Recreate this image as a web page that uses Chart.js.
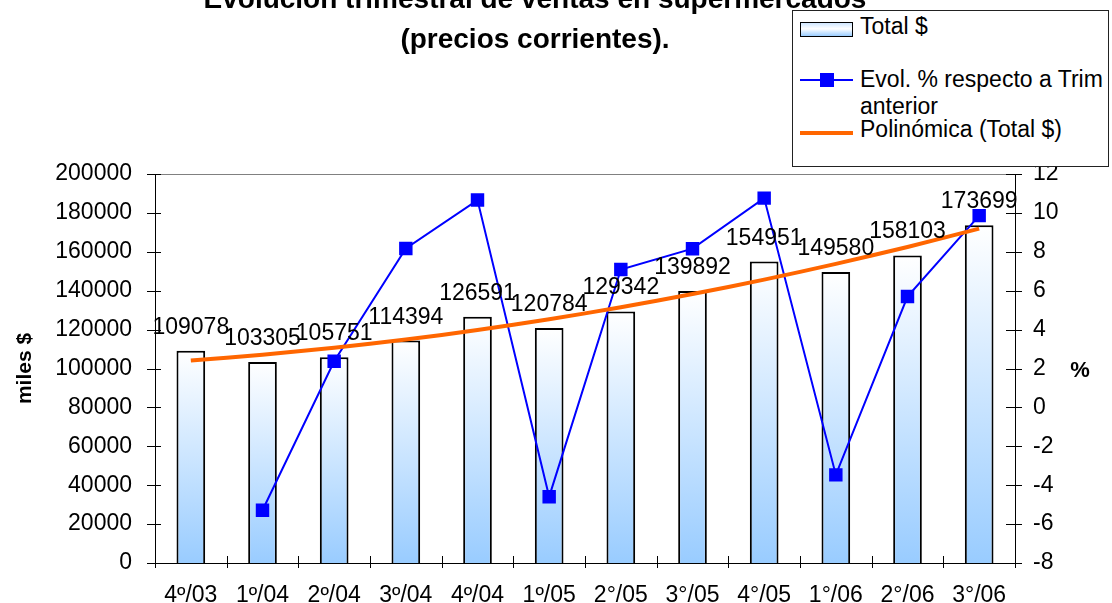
<!DOCTYPE html>
<html>
<head>
<meta charset="utf-8">
<title>Evolución trimestral de ventas en supermercados</title>
<script src="https://cdn.jsdelivr.net/npm/chart.js@4/dist/chart.umd.min.js"></script>
<style>
  body { margin: 0; background: #fff; font-family: 'Liberation Sans', Arial, sans-serif; }
  #wrap { position: relative; width: 1112px; height: 603px; overflow: hidden; }
  #chart { position: absolute; left: 0; top: 0; }
  #title { position: absolute; left: 0; top: -21px; width: 1070px; text-align: center;
           font-weight: bold; font-size: 28px; line-height: 40px; color: #000; }
  #legend { position: absolute; left: 792px; top: 10px; width: 315px; height: 155px;
            border: 1px solid #222; background: #fff; font-size: 23px; color: #000; }
  #legend .txt { position: absolute; left: 67px; line-height: 27px; white-space: nowrap; }
  #legend .swatch { position: absolute; left: 7px; top: 11px; width: 51px; height: 13px;
                    border: 1px solid #000; background: linear-gradient(#cfe6ff, #ffffff 45%, #99ccff); }
  #legend .blueLine { position: absolute; left: 7px; top: 68px; width: 53px; height: 2px; background: #0000ff; }
  #legend .blueMark { position: absolute; left: 27px; top: 62px; width: 14px; height: 14px; background: #0000ff; }
  #legend .orangeLine { position: absolute; left: 7px; top: 120px; width: 53px; height: 4px; background: #ff6600; }
</style>
</head>
<body>
<div id="wrap">
  <canvas id="chart" width="1112" height="603"></canvas>
  <div id="title">Evolución trimestral de ventas en supermercados<br>(precios corrientes).</div>
  <div id="legend"></div>
</div>
<script>
// chart data
const quarters = ['4º/03', '1º/04', '2º/04', '3º/04', '4º/04', '1º/05', '2°/05', '3°/05', '4°/05', '1°/06', '2°/06', '3°/06'];
const totals = [109078, 103305, 105751, 114394, 126591, 120784, 129342, 139892, 154951, 149580, 158103, 173699];
const evolPct = [null, -5.29, 2.37, 8.17, 10.66, -4.59, 7.09, 8.16, 10.76, -3.47, 5.70, 9.86];
const trendTotals = [104100, 107100, 110700, 114900, 119800, 125300, 131500, 138300, 145700, 153800, 162500, 171900];
const seriesNames = ['Total $', 'Evol. % respecto a Trim anterior', 'Polinómica (Total $)'];
const leftTicks = [0, 200000, 20000];   // min, max, step
const rightTicks = [-8, 12, 2];

const FONT = "'Liberation Sans', Arial, sans-serif";

// legend (html box on top of the title, like the original)
const $legend = document.getElementById('legend');
$legend.innerHTML =
  '<div class="swatch"></div><div class="txt" style="top:2px">' + seriesNames[0] + '</div>' +
  '<div class="blueLine"></div><div class="blueMark"></div>' +
  '<div class="txt" style="top:55px">Evol. % respecto a Trim<br>anterior</div>' +
  '<div class="orangeLine"></div><div class="txt" style="top:105px">' + seriesNames[2] + '</div>';

function barGradient(ctx) {
  const chart = ctx.chart;
  if (!chart.chartArea || ctx.type !== 'data') return '#99ccff';
  const y = chart.scales.y;
  const top = y.getPixelForValue(ctx.raw);
  const bottom = y.getPixelForValue(0);
  const g = chart.ctx.createLinearGradient(0, top, 0, bottom);
  g.addColorStop(0, '#ffffff');
  g.addColorStop(1, '#99ccff');
  return g;
}

// value labels above the bars
const barLabels = {
  id: 'barLabels',
  afterDatasetsDraw(chart) {
    const ctx = chart.ctx;
    const barIndex = chart.data.datasets.findIndex(d => d.type === 'bar');
    const meta = chart.getDatasetMeta(barIndex);
    ctx.save();
    ctx.font = '23px ' + FONT;
    ctx.fillStyle = '#000';
    ctx.textAlign = 'center';
    ctx.textBaseline = 'alphabetic';
    meta.data.forEach((bar, i) => {
      ctx.fillText(String(totals[i]), bar.x, bar.y - 17);
    });
    ctx.restore();
  }
};

// tick marks that cross the axes, top border line, and the "%" title
const axisExtras = {
  id: 'axisExtras',
  afterDraw(chart) {
    const ctx = chart.ctx;
    const area = chart.chartArea;
    const y = chart.scales.y, y1 = chart.scales.y1;
    ctx.save();
    ctx.strokeStyle = '#808080';
    ctx.lineWidth = 1;
    ctx.beginPath();
    ctx.moveTo(area.left, area.top + 0.5);
    ctx.lineTo(area.right, area.top + 0.5);
    ctx.stroke();

    ctx.strokeStyle = '#000';
    ctx.beginPath();
    y.ticks.forEach((t, i) => {
      const py = Math.round(y.getPixelForTick(i)) + 0.5;
      ctx.moveTo(area.left - 8, py);
      ctx.lineTo(area.left + 6, py);
    });
    y1.ticks.forEach((t, i) => {
      const py = Math.round(y1.getPixelForTick(i)) + 0.5;
      ctx.moveTo(area.right - 9, py);
      ctx.lineTo(area.right + 7, py);
    });
    const n = quarters.length;
    for (let i = 0; i <= n; i++) {
      const px = Math.round(area.left + i * (area.right - area.left) / n) + 0.5;
      ctx.moveTo(px, area.bottom - 7);
      ctx.lineTo(px, area.bottom + 5);
    }
    ctx.stroke();

    ctx.font = 'bold 22px ' + FONT;
    ctx.fillStyle = '#000';
    ctx.textAlign = 'center';
    ctx.textBaseline = 'middle';
    ctx.fillText('%', y1.right - 32, (area.top + area.bottom) / 2 + 2);
    ctx.restore();
  }
};

new Chart(document.getElementById('chart'), {
  data: {
    labels: quarters,
    datasets: [
      {
        type: 'line',
        label: seriesNames[2],
        data: trendTotals,
        yAxisID: 'y',
        borderColor: '#ff6600',
        borderWidth: 4,
        pointRadius: 0,
        tension: 0.3,
        order: 0
      },
      {
        type: 'line',
        label: seriesNames[1],
        data: evolPct,
        yAxisID: 'y1',
        borderColor: '#0000ff',
        borderWidth: 2,
        pointStyle: 'rect',
        pointRadius: 9.5,
        pointBorderWidth: 0,
        pointBackgroundColor: '#0000ff',
        order: 1
      },
      {
        type: 'bar',
        label: seriesNames[0],
        data: totals,
        yAxisID: 'y',
        backgroundColor: barGradient,
        borderColor: '#000',
        borderWidth: 2,
        borderSkipped: 'bottom',
        barPercentage: 0.4,
        categoryPercentage: 1,
        order: 2
      }
    ]
  },
  options: {
    responsive: false,
    animation: false,
    layout: { padding: { top: 174, left: 0, right: 0, bottom: 0 } },
    plugins: {
      legend: { display: false },
      title: { display: false },
      tooltip: { enabled: false }
    },
    scales: {
      x: {
        offset: true,
        grid: { display: false, drawTicks: false },
        border: { display: true, color: '#000', width: 1 },
        ticks: { color: '#000', font: { family: FONT, size: 23 }, padding: 19, maxRotation: 0, autoSkip: false },
        afterFit: (s) => { s.height = 40; }
      },
      y: {
        position: 'left',
        min: leftTicks[0],
        max: leftTicks[1],
        grid: { display: false, drawTicks: false },
        border: { display: true, color: '#000', width: 1 },
        ticks: {
          stepSize: leftTicks[2], color: '#000', font: { family: FONT, size: 23 }, padding: 23,
          callback: (v) => String(v)
        },
        title: { display: true, text: 'miles $', color: '#000', font: { family: FONT, size: 21, weight: 'bold' }, padding: { top: 13, bottom: 0 } },
        afterFit: (s) => { s.width = 155; }
      },
      y1: {
        position: 'right',
        min: rightTicks[0],
        max: rightTicks[1],
        grid: { display: false, drawTicks: false },
        border: { display: true, color: '#000', width: 1 },
        ticks: { stepSize: rightTicks[2], color: '#000', font: { family: FONT, size: 23 }, padding: 18 },
        afterFit: (s) => { s.width = 97; }
      }
    }
  },
  plugins: [barLabels, axisExtras]
});
</script>
</body>
</html>
